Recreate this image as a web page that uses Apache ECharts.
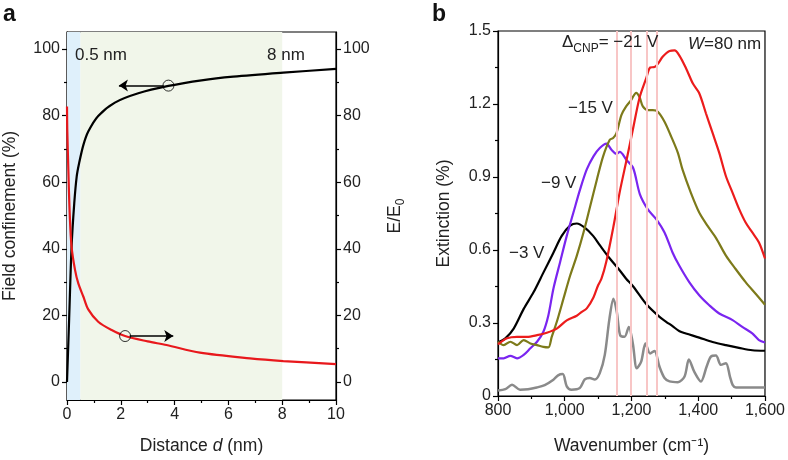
<!DOCTYPE html>
<html><head><meta charset="utf-8">
<script src="https://cdn.jsdelivr.net/npm/echarts@6/dist/echarts.min.js"></script>
<style>html,body{margin:0;padding:0;background:#fff}#c{width:788px;height:460px}</style>
</head><body><div id="c"></div>
<script>
// ---------- Panel a data ----------
const confD   = [0, 0.08, 0.17, 0.27, 0.36, 0.45, 0.61, 0.79, 1.16, 1.78, 2.65, 3.77, 5, 6.18, 8.04, 10];
const confVal = [0, 19, 40.6, 53.7, 61.7, 65.7, 71.2, 75.2, 79.9, 83.9, 86.7, 88.9, 90.6, 91.7, 92.9, 94];
const enhD    = [0, 0.01, 0.05, 0.1, 0.17, 0.3, 0.42, 0.61, 0.79, 1.16, 1.66, 2.16, 3, 3.7, 4.94, 6.8, 8.04, 10];
const enhVal  = [82.7, 75.7, 63.7, 50.7, 40.6, 33.6, 29.6, 25.6, 21.8, 18.1, 15.6, 13.8, 12.2, 11.1, 8.8, 7.1, 6.3, 5.4];
const confMarker = [3.77, 89];   const confArrowFrom = [3.6, 89];  const confArrowTo = [1.93, 89];
const enhMarker  = [2.16, 13.8]; const enhArrowFrom  = [2.33, 13.8]; const enhArrowTo = [3.95, 13.8];
const blueBand  = [0, 0.5];
const greenBand = [0.5, 8];
const aYTicks = [0, 20, 40, 60, 80, 100];
const aYMinor = [10, 30, 50, 70, 90];

// ---------- Panel b data ----------
const v3Wn  = [800,822,847,877,906,936,966,991,1016,1036,1060,1085,1105,1135,1165,1184,1204,1244,1284,1304,1323,1344,1363,1403,1443,1483,1522,1562,1600];
const v3Ext = [0.22,0.237,0.277,0.358,0.425,0.507,0.589,0.658,0.70,0.709,0.692,0.658,0.62,0.565,0.516,0.482,0.452,0.378,0.325,0.305,0.287,0.266,0.257,0.24,0.222,0.209,0.198,0.188,0.186];
const v9Wn  = [800,817,837,857,877,897,917,936,951,966,986,1006,1026,1046,1066,1086,1105,1125,1140,1155,1165,1185,1205,1225,1249,1274,1299,1323,1343,1373,1403,1433,1463,1503,1532,1562,1582,1600];
const v9Ext = [0.155,0.155,0.165,0.155,0.169,0.196,0.223,0.264,0.332,0.441,0.55,0.658,0.754,0.849,0.931,0.985,1.019,1.037,1.012,0.995,1.003,0.97,0.937,0.83,0.767,0.727,0.672,0.59,0.536,0.468,0.414,0.373,0.339,0.312,0.284,0.257,0.23,0.22];
const v15Wn  = [800,817,837,857,877,897,917,936,951,961,976,996,1016,1036,1056,1076,1096,1115,1135,1145,1155,1170,1184,1199,1214,1224,1234,1249,1264,1279,1299,1319,1339,1353,1378,1403,1428,1453,1483,1512,1542,1572,1600];
const v15Ext = [0.223,0.209,0.223,0.209,0.23,0.216,0.209,0.202,0.2,0.243,0.304,0.399,0.494,0.576,0.671,0.779,0.888,0.985,1.053,1.06,1.08,1.155,1.19,1.216,1.246,1.229,1.19,1.175,1.175,1.168,1.127,1.066,0.999,0.93,0.835,0.754,0.699,0.65,0.577,0.522,0.468,0.42,0.375];
const v21Wn  = [800,827,857,887,917,946,976,1006,1036,1050,1066,1086,1100,1110,1125,1145,1165,1186,1204,1224,1244,1256,1269,1279,1294,1314,1329,1344,1364,1384,1403,1423,1443,1463,1483,1503,1523,1542,1562,1582,1600];
const v21Ext = [0.212,0.237,0.243,0.243,0.25,0.26,0.277,0.311,0.33,0.345,0.36,0.405,0.455,0.482,0.555,0.69,0.84,0.975,1.094,1.225,1.305,1.35,1.352,1.365,1.395,1.418,1.42,1.398,1.345,1.284,1.244,1.162,1.081,0.999,0.903,0.835,0.767,0.713,0.672,0.631,0.565];
const refWn  = [800,822,842,866,890,916,940,966,980,994,1006,1020,1045,1060,1075,1090,1105,1120,1134,1146,1156,1166,1179,1192,1204,1216,1229,1242,1256,1269,1284,1299,1314,1339,1359,1372,1388,1408,1425,1438,1453,1468,1483,1495,1503,1513,1540,1600];
const refExt = [0.023,0.028,0.046,0.026,0.028,0.035,0.045,0.067,0.085,0.09,0.04,0.026,0.033,0.068,0.074,0.068,0.094,0.169,0.318,0.40,0.345,0.25,0.243,0.284,0.216,0.114,0.141,0.216,0.175,0.185,0.12,0.074,0.06,0.057,0.08,0.15,0.1,0.06,0.12,0.162,0.166,0.128,0.135,0.08,0.046,0.035,0.035,0.035];
const cnpLines = [1155, 1199, 1247, 1276];

const zip = (xs, ys) => xs.map((x, i) => [x, ys[i]]);
const FONT = '"Liberation Sans", Arial, Helvetica, sans-serif';
const axisLineStyle = { color: '#000', width: 1.2 };
const lbl = { fontFamily: FONT, fontSize: 16, color: '#222' };
const nameStyle = { fontFamily: FONT, fontSize: 17.5, color: '#222' };
const ANN = '17px ' + FONT;
const lineCommon = { smooth: 0.3, symbol: 'none', z: 3 };

const chart = echarts.init(document.getElementById('c'), null, { renderer: 'canvas' });
const option = {
  animation: false,
  grid: [
    { left: 67, top: 32, width: 269, height: 368, show: true, borderColor: '#000', borderWidth: 1.2, backgroundColor: 'transparent' },
    { left: 498, top: 31, width: 268, height: 367, show: true, borderColor: '#000', borderWidth: 1.2, backgroundColor: 'transparent' }
  ],
  xAxis: [
    { gridIndex: 0, type: 'value', min: 0, max: 10, interval: 2,
      axisLine: { onZero: false, lineStyle: axisLineStyle }, axisTick: { length: 5, lineStyle: axisLineStyle },
      minorTick: { show: true, splitNumber: 2, length: 3, lineStyle: axisLineStyle },
      splitLine: { show: false }, axisLabel: Object.assign({ margin: 7 }, lbl),
      name: '{n|Distance }{i|d}{n| (nm)}', nameLocation: 'middle', nameGap: 37,
      nameTextStyle: { rich: { n: nameStyle, i: Object.assign({ fontStyle: 'italic' }, nameStyle) } } },
    { gridIndex: 1, type: 'value', min: 800, max: 1600, interval: 200,
      axisLine: { onZero: false, lineStyle: axisLineStyle }, axisTick: { length: 5, lineStyle: axisLineStyle },
      minorTick: { show: true, splitNumber: 2, length: 3, lineStyle: axisLineStyle },
      splitLine: { show: false },
      axisLabel: Object.assign({ margin: 7, formatter: v => v >= 1000 ? Math.floor(v / 1000) + ',' + String(v % 1000).padStart(3, '0') : String(v) }, lbl),
      name: 'Wavenumber (cm\u207B\u00B9)', nameLocation: 'middle', nameGap: 41, nameTextStyle: nameStyle }
  ],
  yAxis: [
    { gridIndex: 0, type: 'value', min: -5.4, max: 105.1, position: 'left',
      axisLine: { onZero: false, lineStyle: axisLineStyle },
      axisTick: { length: 5, lineStyle: axisLineStyle, customValues: aYTicks },
      axisLabel: Object.assign({ margin: 7, customValues: aYTicks }, lbl),
      splitLine: { show: false },
      name: 'Field confinement (%)', nameLocation: 'middle', nameGap: 48, nameRotate: 90, nameTextStyle: nameStyle },
    { gridIndex: 0, type: 'value', min: -5.4, max: 105.1, position: 'left',
      axisLine: { show: false, onZero: false }, axisLabel: { show: false }, splitLine: { show: false },
      axisTick: { length: 3, lineStyle: axisLineStyle, customValues: aYMinor } },
    { gridIndex: 0, type: 'value', min: -5.4, max: 105.1, position: 'right',
      axisLine: { onZero: false, lineStyle: axisLineStyle },
      axisTick: { length: 5, lineStyle: axisLineStyle, customValues: aYTicks },
      axisLabel: Object.assign({ margin: 7, customValues: aYTicks }, lbl),
      splitLine: { show: false },
      name: '{a|E/E}{s|0}', nameLocation: 'middle', nameGap: 50, nameRotate: 90,
      nameTextStyle: { rich: { a: Object.assign({ lineHeight: 20, verticalAlign: 'top' }, nameStyle),
                               s: { fontFamily: FONT, fontSize: 12, color: '#222', lineHeight: 12, verticalAlign: 'top', padding: [9, 0, 0, 0] } } } },
    { gridIndex: 0, type: 'value', min: -5.4, max: 105.1, position: 'right',
      axisLine: { show: false, onZero: false }, axisLabel: { show: false }, splitLine: { show: false },
      axisTick: { length: 3, lineStyle: axisLineStyle, customValues: aYMinor } },
    { gridIndex: 1, type: 'value', min: 0, max: 1.5, interval: 0.3,
      axisLine: { onZero: false, lineStyle: axisLineStyle }, axisTick: { length: 5, lineStyle: axisLineStyle },
      minorTick: { show: true, splitNumber: 2, length: 3, lineStyle: axisLineStyle },
      splitLine: { show: false },
      axisLabel: Object.assign({ margin: 7, formatter: v => v === 0 ? '0' : v.toFixed(1) }, lbl),
      name: 'Extinction (%)', nameLocation: 'middle', nameGap: 45, nameRotate: 90, nameTextStyle: nameStyle }
  ],
  series: [
    { type: 'line', xAxisIndex: 0, yAxisIndex: 0, data: [], z: 1, silent: true,
      markArea: { silent: true, data: [
        [{ xAxis: blueBand[0], itemStyle: { color: '#dff0fb' } }, { xAxis: blueBand[1] }],
        [{ xAxis: greenBand[0], itemStyle: { color: '#f1f6ea' } }, { xAxis: greenBand[1] }]
      ] } },
    Object.assign({ type: 'line', xAxisIndex: 0, yAxisIndex: 0, data: zip(confD, confVal),
      lineStyle: { color: '#000', width: 2.2 } }, lineCommon),
    Object.assign({ type: 'line', xAxisIndex: 0, yAxisIndex: 2, data: zip(enhD, enhVal),
      lineStyle: { color: '#e8181c', width: 2.2 } }, lineCommon),
    { type: 'scatter', xAxisIndex: 0, yAxisIndex: 0, data: [confMarker, enhMarker], symbol: 'circle', symbolSize: 11,
      itemStyle: { color: 'rgba(0,0,0,0)', borderColor: '#000', borderWidth: 1 }, z: 5, silent: true,
      markLine: { silent: true, symbol: ['none', 'arrow'], symbolSize: 9, label: { show: false },
        lineStyle: { color: '#000', width: 1.6, type: 'solid' },
        data: [[{ coord: confArrowFrom }, { coord: confArrowTo }], [{ coord: enhArrowFrom }, { coord: enhArrowTo }]] } },
    { type: 'line', xAxisIndex: 1, yAxisIndex: 4, data: [], z: 1, silent: true,
      markLine: { silent: true, symbol: 'none', label: { show: false },
        lineStyle: { color: '#f8c6c6', width: 2, type: 'solid' },
        data: cnpLines.map(v => ({ xAxis: v })) } },
    Object.assign({ type: 'line', xAxisIndex: 1, yAxisIndex: 4, data: zip(refWn, refExt),
      lineStyle: { color: '#8a8a8a', width: 2.5 } }, lineCommon),
    Object.assign({ type: 'line', xAxisIndex: 1, yAxisIndex: 4, data: zip(v3Wn, v3Ext),
      lineStyle: { color: '#000', width: 2.2 } }, lineCommon),
    Object.assign({ type: 'line', xAxisIndex: 1, yAxisIndex: 4, data: zip(v9Wn, v9Ext),
      lineStyle: { color: '#7a25f0', width: 2.2 } }, lineCommon),
    Object.assign({ type: 'line', xAxisIndex: 1, yAxisIndex: 4, data: zip(v15Wn, v15Ext),
      lineStyle: { color: '#7d7a1a', width: 2.2 } }, lineCommon),
    Object.assign({ type: 'line', xAxisIndex: 1, yAxisIndex: 4, data: zip(v21Wn, v21Ext),
      lineStyle: { color: '#ec1c1c', width: 2.2 } }, lineCommon)
  ],
  graphic: [
    { type: 'text', x: 3, y: 15, z: 10, style: { text: 'a', font: 'bold 23px ' + FONT, fill: '#111', textVerticalAlign: 'middle' } },
    { type: 'text', x: 432, y: 15, z: 10, style: { text: 'b', font: 'bold 23px ' + FONT, fill: '#111', textVerticalAlign: 'middle' } },
    { type: 'text', x: 75, y: 55, z: 10, style: { text: '0.5 nm', font: ANN, fill: '#222', textVerticalAlign: 'middle' } },
    { type: 'text', x: 267, y: 55, z: 10, style: { text: '8 nm', font: ANN, fill: '#222', textVerticalAlign: 'middle' } },
    { type: 'text', x: 562, y: 34, z: 10, style: { text: '{n|\u0394}{s|CNP}{n|= \u221221 V}',
        rich: { n: { font: ANN, fill: '#222', lineHeight: 20, verticalAlign: 'top' },
                s: { font: '12px ' + FONT, fill: '#222', lineHeight: 12, verticalAlign: 'top', padding: [9, 0, 0, 0] } } } },
    { type: 'text', x: 688, y: 44, z: 10, style: { text: '{i|W}{n|=80 nm}',
        rich: { i: { font: 'italic ' + ANN, fill: '#222' }, n: { font: ANN, fill: '#222' } }, textVerticalAlign: 'middle' } },
    { type: 'text', x: 568, y: 108, z: 10, style: { text: '\u221215 V', font: ANN, fill: '#222', textVerticalAlign: 'middle' } },
    { type: 'text', x: 541, y: 183, z: 10, style: { text: '\u22129 V', font: ANN, fill: '#222', textVerticalAlign: 'middle' } },
    { type: 'text', x: 509, y: 253, z: 10, style: { text: '\u22123 V', font: ANN, fill: '#222', textVerticalAlign: 'middle' } }
  ]
};
chart.setOption(option);
</script></body></html>
